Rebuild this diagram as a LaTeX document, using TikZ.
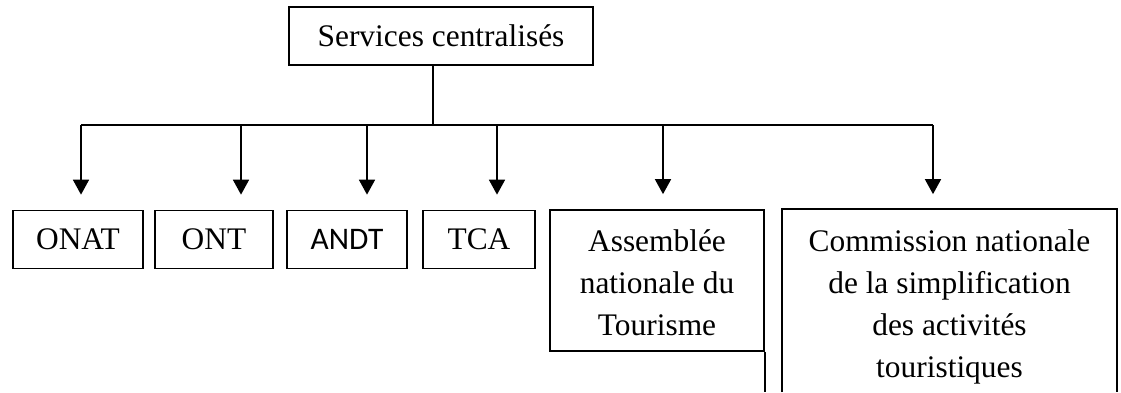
\documentclass[tikz,border=0pt]{standalone}
\usepackage{fontspec}
\setmainfont{Liberation Serif}
\newfontfamily\calibri{Carlito}
\usetikzlibrary{arrows.meta}
\begin{document}
\begin{tikzpicture}[x=1pt, y=-1pt, line width=1.7pt, font=\fontsize{31.4}{42}\selectfont,
  box/.style={draw, inner sep=0pt, minimum height=58pt, align=center},
  arr/.style={-{Triangle[width=16pt,length=15pt]}, shorten >=15pt}]
\useasboundingbox (0,0) rectangle (1121,392);
\node[box, minimum width=304pt, minimum height=58pt, line width=1.4pt] (serv) at (441,36) {Services centralisés};
\node[box, minimum width=130pt] (onat) at (78,239.5) {ONAT};
\node[box, minimum width=118pt] (ont) at (214,239.5) {ONT};
\node[box, minimum width=120pt] (andt) at (347,239.5) {\calibri ANDT};
\node[box, minimum width=112pt] (tca) at (479,239.5) {TCA};
\node[box, minimum width=214pt, minimum height=141pt] (anat) at (657,280.5) {\rule{0pt}{26pt}Assemblée\\nationale du\\Tourisme};
\node[align=center, inner sep=0pt, minimum width=333pt, minimum height=193pt] (cnsat) at (949.5,306.5) {Commission nationale\\de la simplification\\des activités\\touristiques};
\draw (cnsat.south west |- 0,392) |- (cnsat.north east) -- (cnsat.north east |- 0,392);
\draw (anat.south east) -- (anat.south east |- 0,392);
\coordinate (bus) at (433,125);
\draw (serv.south -| bus) -- (bus);
\draw (81,125) -- (933,125);
\foreach \x/\n in {81/onat, 241/ont, 367/andt, 497/tca, 663/anat, 933/cnsat}
  \draw[arr] (\x,125) -- (\n.north -| \x,0);
\end{tikzpicture}
\end{document}
